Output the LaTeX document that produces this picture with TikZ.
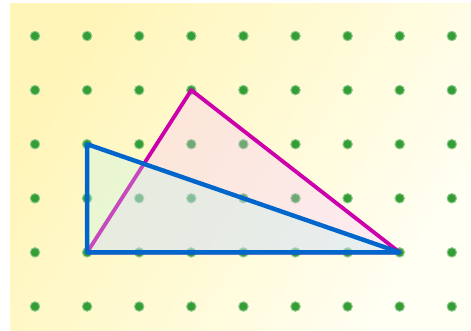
\documentclass[tikz,border=0pt]{standalone}
\usetikzlibrary{calc}
\definecolor{bgtop}{RGB}{255,245,185}
\definecolor{bgmid}{RGB}{255,250,212}
\definecolor{bgbot}{RGB}{255,255,244}
\definecolor{peg}{RGB}{52,158,52}
\definecolor{bandblue}{RGB}{0,102,204}
\definecolor{bandmag}{RGB}{204,0,170}
\definecolor{fillblue}{RGB}{188,245,238}
\definecolor{fillmag}{RGB}{248,192,255}
\tikzset{
  board/.style={draw=none, top color=bgtop, bottom color=bgbot, middle color=bgmid, shading angle=58},
  pegdot/.style={circle, fill=peg, draw=peg!55, line width=1pt, inner sep=0pt, minimum size=9.5pt},
  band/.style={line width=4.4pt, line join=round, line cap=round},
  blueband/.style={band, draw=bandblue, fill=fillblue, fill opacity=0.3},
  magband/.style={band, line width=3.8pt, draw=bandmag, fill=fillmag, fill opacity=0.3},
}

\begin{document}
\begin{tikzpicture}[x=1pt, y=-1pt]

\useasboundingbox (0,0) rectangle (471,331);
\shade[board] (10,4) rectangle (471,331);

% pegs on the board
\foreach \i in {0,...,8} {
  \foreach \j in {0,...,5} {
    \node[pegdot] (p-\i-\j) at ({35+52.1*\i}, {36+54.1*\j}) {};
  }
}

% rubber bands
\draw[magband] (p-1-4.center) -- (p-3-1.center) -- (p-7-4.center) -- cycle;
\draw[blueband] (p-1-2.center) -- (p-1-4.center) -- (p-7-4.center) -- cycle;

\end{tikzpicture}
\end{document}
